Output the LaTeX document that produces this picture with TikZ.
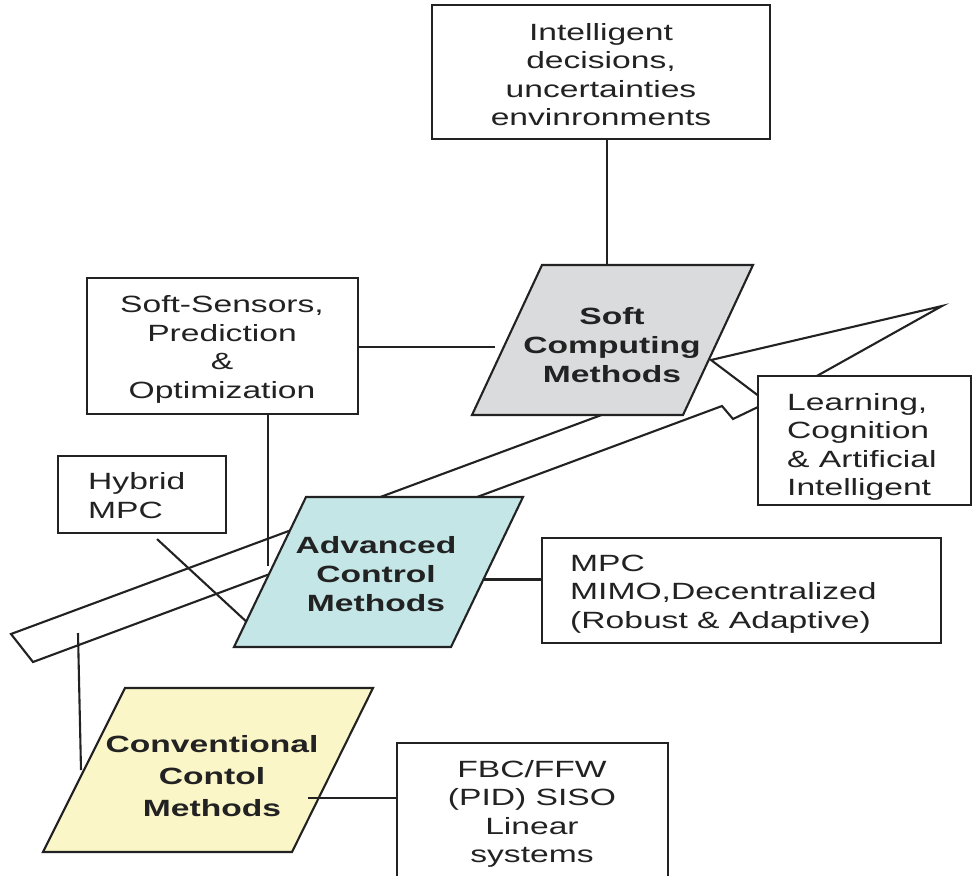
\documentclass[tikz,border=0pt]{standalone}
\usepackage{fontspec}
\setmainfont{Liberation Sans}[FakeStretch=1.43]
\usetikzlibrary{calc}
\definecolor{ink}{HTML}{222222}
\definecolor{softgray}{HTML}{DADBDD}
\definecolor{advcyan}{HTML}{C4E6E6}
\definecolor{convyellow}{HTML}{FBF6C8}
\begin{document}
\begin{tikzpicture}[x=1pt,y=-1pt,
  line/.style={draw=ink,line width=2.1pt,line join=miter},
  box/.style={draw=ink,line width=2.1pt,fill=white,inner sep=0pt},
  para/.style={draw=ink,line width=2.1pt,line join=miter},
  txt/.style={text=ink,inner sep=0pt,font=\fontsize{23.5}{28.5}\selectfont},
  btxt/.style={txt,font=\fontsize{23.5}{29}\selectfont\bfseries,align=center}]
\useasboundingbox (0,0) rectangle (973,875);
\clip (0,0) rectangle (973,875);

% long evolution arrow (outline only, drawn first so that boxes hide parts of it)
\draw[line] (650,397) -- (11,634) -- (33,662) -- (722,406) -- (733,419) -- (758,407) -- (775,399);
\draw[line] (780,412) -- (711,360) -- (942,306) -- (790,391);

% text boxes
\node[box,minimum width=338,minimum height=134] (intel) at (601,72) {};
\node[box,minimum width=271,minimum height=136] (ss) at (222.5,346) {};
\node[box,minimum width=168,minimum height=77] (hyb) at (142,494.5) {};
\node[box,minimum width=399,minimum height=105] (mpc) at (741.5,590.5) {};
\node[box,minimum width=213,minimum height=129] (learn) at (864.5,440.5) {};
\node[box,minimum width=271,minimum height=157] (fbc) at (532.5,821.5) {};

% method parallelograms
\path[para,fill=softgray] (542,265) coordinate (scTL) -- (753,265) coordinate (scTR)
  -- (683,415) coordinate (scBR) -- (472,415) coordinate (scBL) -- cycle;
\path[para,fill=advcyan] (306,497) coordinate (advTL) -- (523,497) coordinate (advTR)
  -- (451,647) coordinate (advBR) -- (234,647) coordinate (advBL) -- cycle;
\path[para,fill=convyellow] (125,688) coordinate (convTL) -- (373,688) coordinate (convTR)
  -- (292,852) coordinate (convBR) -- (43,852) coordinate (convBL) -- cycle;

% connection points
\coordinate (scTop) at ($(scTL)!0.31!(scTR)$);
\coordinate (scIn) at (495,347);
\coordinate (advIn) at (268,566);
\coordinate (hybOut) at ($(hyb.south)+(15,5)$);
\coordinate (advHy) at ($(advBL)!0.17!(advTL)$);
\coordinate (advOut) at ($(advBR)!0.45!(advTR)$);
\coordinate (convOut) at (308,798);
\coordinate (tailTop) at (78,633);
\coordinate (convIn) at (81,770);

% connectors
\draw[line] (intel.south -| scTop) -- (scTop);
\draw[line] (ss.east |- scIn) -- (scIn);
\draw[line] (ss.south -| advIn) -- (advIn);
\draw[line] (hybOut) -- (advHy);
\draw[line] (advOut) -- (advOut -| mpc.west);
\draw[line] (convOut) -- (convOut -| fbc.west);
\draw[line] (tailTop) -- (convIn);

% labels
\node[txt,align=center] (intelT) at (601,74.5) {Intelligent\\decisions,\\uncertainties\\envinronments};
\node[txt,align=center] (ssT) at (222,349.5) {Soft-Sensors,\\Prediction\\\&\\Optimization};
\node[txt,align=left,anchor=west] (hybT) at (88,495.5) {Hybrid\\MPC};
\node[txt,align=left,anchor=west] (mpcT) at (570,594) {MPC\\MIMO,Decentralized\\(Robust \& Adaptive)};
\node[txt,align=left,anchor=west] (learnT) at (787,447) {Learning,\\Cognition\\\& Artificial\\Intelligent};
\node[txt,align=center] (fbcT) at (532,814) {FBC/FFW\\(PID) SISO\\Linear\\systems};
\node[btxt] (scT) at (612,345.5) {Soft\\Computing\\Methods};
\node[btxt] (advT) at (376,574) {Advanced\\Control\\Methods};
\node[btxt,font=\fontsize{23.5}{32}\selectfont\bfseries] (convT) at (212,776) {Conventional\\Contol\\Methods};
\end{tikzpicture}
\end{document}
